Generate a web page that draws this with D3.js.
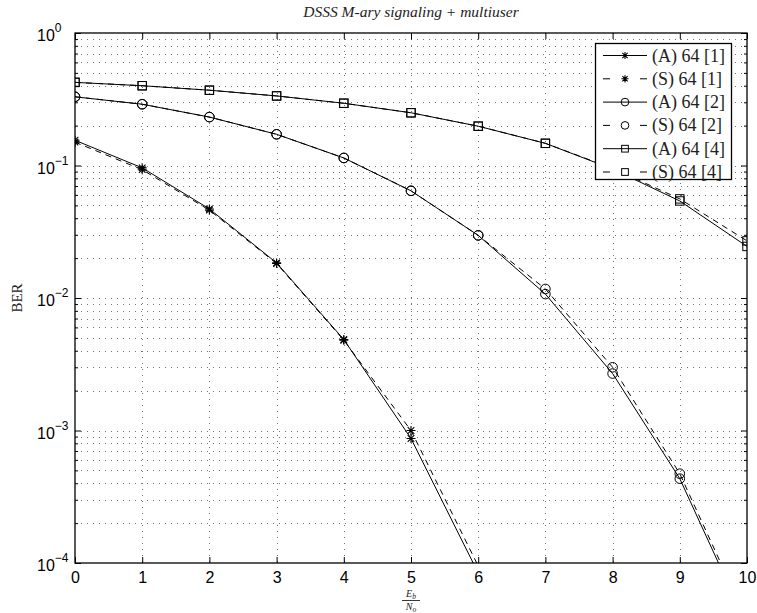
<!DOCTYPE html>
<html>
<head>
<meta charset="utf-8">
<title>DSSS M-ary signaling + multiuser</title>
<script src="https://cdnjs.cloudflare.com/ajax/libs/d3/7.8.5/d3.min.js"></script>
<style>
  body { margin: 0; background: #fff; }
  .tick-lbl { font-family: "Liberation Sans", Arial, sans-serif; font-size: 16px; fill: #000; }
  .tex { font-family: "Liberation Serif", "DejaVu Serif", serif; fill: #222; }
  .grid line { stroke: #000; stroke-width: 1; stroke-dasharray: 1,5; stroke-opacity: 0.55; }
  .curve { fill: none; stroke: #000; stroke-width: 1; }
</style>
</head>
<body>
<svg width="757" height="613"></svg>
<script>
// ---- data ----
var ebno = [0, 1, 2, 3, 4, 5, 6, 7, 8, 9, 10];
var berA1 = [0.155, 0.096, 0.047, 0.0184, 0.00486, 0.00087, 0.000084];
var berS1 = [0.150, 0.093, 0.046, 0.0182, 0.00480, 0.00100, 0.000095];
var berA2 = [0.330, 0.290, 0.232, 0.172, 0.114, 0.0644, 0.0297, 0.0107, 0.00269, 0.000433, 0.000034];
var berS2 = [0.330, 0.290, 0.232, 0.172, 0.114, 0.0644, 0.0297, 0.0117, 0.00300, 0.000472, 0.000037];
var berA4 = [0.424, 0.400, 0.370, 0.335, 0.295, 0.250, 0.198, 0.147, 0.094, 0.054, 0.0245];
var berS4 = [0.424, 0.400, 0.370, 0.335, 0.295, 0.250, 0.198, 0.147, 0.095, 0.056, 0.0270];
var seriesNames = ["(A) 64 [1]", "(S) 64 [1]", "(A) 64 [2]", "(S) 64 [2]", "(A) 64 [4]", "(S) 64 [4]"];
var xTicks = [0, 1, 2, 3, 4, 5, 6, 7, 8, 9, 10];
var yDecades = [0, -1, -2, -3, -4];

var series = [
  {name: seriesNames[0], vals: berA1, marker: "star", dash: null},
  {name: seriesNames[1], vals: berS1, marker: "star", dash: "6,5"},
  {name: seriesNames[2], vals: berA2, marker: "circle", dash: null},
  {name: seriesNames[3], vals: berS2, marker: "circle", dash: "6,5"},
  {name: seriesNames[4], vals: berA4, marker: "square", dash: null},
  {name: seriesNames[5], vals: berS4, marker: "square", dash: "6,5"}
];

var svg = d3.select("svg");
var L = 75, R = 747, T = 33, B = 563;

var x = d3.scaleLinear().domain([0, 10]).range([L, R]);
var y = d3.scaleLog().domain([1e-4, 1]).range([B, T]);

// minor values for the log grid
var minors = [];
yDecades.slice(1).forEach(function(p) {
  for (var k = 2; k <= 9; k++) minors.push(k * Math.pow(10, p));
});
var majors = yDecades.map(function(p) { return Math.pow(10, p); });

// grid
var grid = svg.append("g").attr("class", "grid");
grid.selectAll(".gy").data(minors.concat(majors.slice(1, -1))).enter().append("line")
  .attr("x1", L).attr("x2", R)
  .attr("y1", function(d) { return Math.round(y(d)) + 0.5; })
  .attr("y2", function(d) { return Math.round(y(d)) + 0.5; });
grid.selectAll(".gx").data(xTicks.slice(1, -1)).enter().append("line")
  .attr("y1", T).attr("y2", B)
  .attr("x1", function(d) { return Math.round(x(d)) + 0.5; })
  .attr("x2", function(d) { return Math.round(x(d)) + 0.5; });

// axes (ticks inward on all four sides)
svg.append("g").attr("transform", "translate(0," + B + ")")
  .call(d3.axisBottom(x).tickValues(xTicks).tickSize(-6).tickPadding(10).tickFormat(d3.format("d")))
  .call(function(g) {
    g.select(".domain").remove();
    g.attr("font-size", null).attr("font-family", null);
    g.selectAll("text").attr("class", "tick-lbl").attr("dy", null).attr("y", 20);
  });
svg.append("g").attr("transform", "translate(0," + T + ")")
  .call(d3.axisTop(x).tickValues(xTicks).tickSize(-6).tickFormat(""))
  .call(function(g) { g.select(".domain").remove(); });

svg.append("g").attr("transform", "translate(" + L + ",0)")
  .call(d3.axisLeft(y).tickValues(majors).tickSize(-6).tickFormat(""))
  .call(function(g) { g.select(".domain").remove(); });
svg.append("g").attr("transform", "translate(" + L + ",0)")
  .call(d3.axisLeft(y).tickValues(minors).tickSize(-3).tickFormat(""))
  .call(function(g) { g.select(".domain").remove(); });
svg.append("g").attr("transform", "translate(" + R + ",0)")
  .call(d3.axisRight(y).tickValues(majors).tickSize(-6).tickFormat(""))
  .call(function(g) { g.select(".domain").remove(); });
svg.append("g").attr("transform", "translate(" + R + ",0)")
  .call(d3.axisRight(y).tickValues(minors).tickSize(-3).tickFormat(""))
  .call(function(g) { g.select(".domain").remove(); });

// y tick labels 10^p
var ylab = svg.append("g").selectAll("text").data(yDecades).enter().append("text")
  .attr("class", "tick-lbl")
  .attr("x", 37)
  .attr("y", function(p) { return y(Math.pow(10, p)) + 8; })
  .attr("font-size", 17)
  .attr("text-anchor", "start");
ylab.append("tspan").text("10");
ylab.append("tspan").attr("dy", -9).attr("font-size", 12)
  .text(function(p) { return p === 0 ? "0" : "\u2212" + (-p); });

// frame
svg.append("rect").attr("x", L).attr("y", T).attr("width", R - L).attr("height", B - T)
  .attr("fill", "none").attr("stroke", "#000").attr("stroke-width", 1.3);

// clip
svg.append("clipPath").attr("id", "clip").append("rect")
  .attr("x", L).attr("y", T).attr("width", R - L).attr("height", B - T);

var line = d3.line()
  .x(function(d, i) { return x(ebno[i]); })
  .y(function(d) { return y(d); });

function drawMarker(g, type, cx, cy, s) {
  s = s || 1;
  if (type === "star") {
    var r = 4.5 * s, rd = 3.3 * s;
    g.append("path").attr("d",
      "M" + (cx - r) + "," + cy + "H" + (cx + r) +
      "M" + cx + "," + (cy - r) + "V" + (cy + r) +
      "M" + (cx - rd) + "," + (cy - rd) + "L" + (cx + rd) + "," + (cy + rd) +
      "M" + (cx - rd) + "," + (cy + rd) + "L" + (cx + rd) + "," + (cy - rd))
      .attr("stroke", "#000").attr("stroke-width", 1.1).attr("fill", "none");
  } else if (type === "circle") {
    g.append("circle").attr("cx", cx).attr("cy", cy).attr("r", 4.8 * s)
      .attr("fill", "none").attr("stroke", "#000").attr("stroke-width", 1);
  } else {
    var h = 4.2 * s;
    g.append("rect").attr("x", cx - h).attr("y", cy - h).attr("width", 2 * h).attr("height", 2 * h)
      .attr("fill", "none").attr("stroke", "#000").attr("stroke-width", 1);
  }
}

var plot = svg.append("g").attr("clip-path", "url(#clip)");
series.forEach(function(s) {
  plot.append("path").datum(s.vals).attr("class", "curve")
    .attr("stroke-dasharray", s.dash)
    .attr("d", line);
  var mg = plot.append("g");
  s.vals.forEach(function(v, i) {
    if (v >= 1e-4) drawMarker(mg, s.marker, x(ebno[i]), y(v));
  });
});

// legend
var lg = svg.append("g");
lg.append("rect").attr("x", 595.5).attr("y", 43.5).attr("width", 136).attr("height", 136)
  .attr("fill", "#fff").attr("stroke", "#000").attr("stroke-width", 1.3);
series.forEach(function(s, i) {
  var yy = 55.5 + i * 23.3;
  lg.append("line").attr("x1", 603).attr("x2", 647).attr("y1", yy).attr("y2", yy)
    .attr("stroke", "#000").attr("stroke-width", 1).attr("stroke-dasharray", s.dash ? "7,30" : null);
  drawMarker(lg, s.marker, 625, yy, 0.8);
  lg.append("text").attr("class", "tex").attr("x", 652).attr("y", yy + 6)
    .attr("font-size", 18).attr("fill", "#555").text(s.name);
});

// title
svg.append("text").attr("class", "tex").attr("x", (L + R) / 2).attr("y", 17)
  .attr("text-anchor", "middle").attr("font-size", 15.5).attr("font-style", "italic")
  .text("DSSS M-ary signaling + multiuser");

// y label
svg.append("text").attr("class", "tex").attr("transform", "translate(22," + ((T + B) / 2) + ") rotate(-90)")
  .attr("text-anchor", "middle").attr("font-size", 15).text("BER");

// x label: Eb / No as a fraction
var xl = svg.append("g").attr("transform", "translate(" + x(5) + ",0)");
var eb = xl.append("text").attr("class", "tex").attr("y", 597).attr("text-anchor", "middle")
  .attr("font-size", 10).attr("font-style", "italic");
eb.append("tspan").text("E");
eb.append("tspan").attr("font-size", 7.5).attr("dy", 2).text("b");
xl.append("line").attr("x1", -9).attr("x2", 9).attr("y1", 600.5).attr("y2", 600.5)
  .attr("stroke", "#222").attr("stroke-width", 0.9);
var no = xl.append("text").attr("class", "tex").attr("y", 609.5).attr("text-anchor", "middle")
  .attr("font-size", 10).attr("font-style", "italic");
no.append("tspan").text("N");
no.append("tspan").attr("font-size", 7.5).attr("dy", 2).text("o");
</script>
</body>
</html>
